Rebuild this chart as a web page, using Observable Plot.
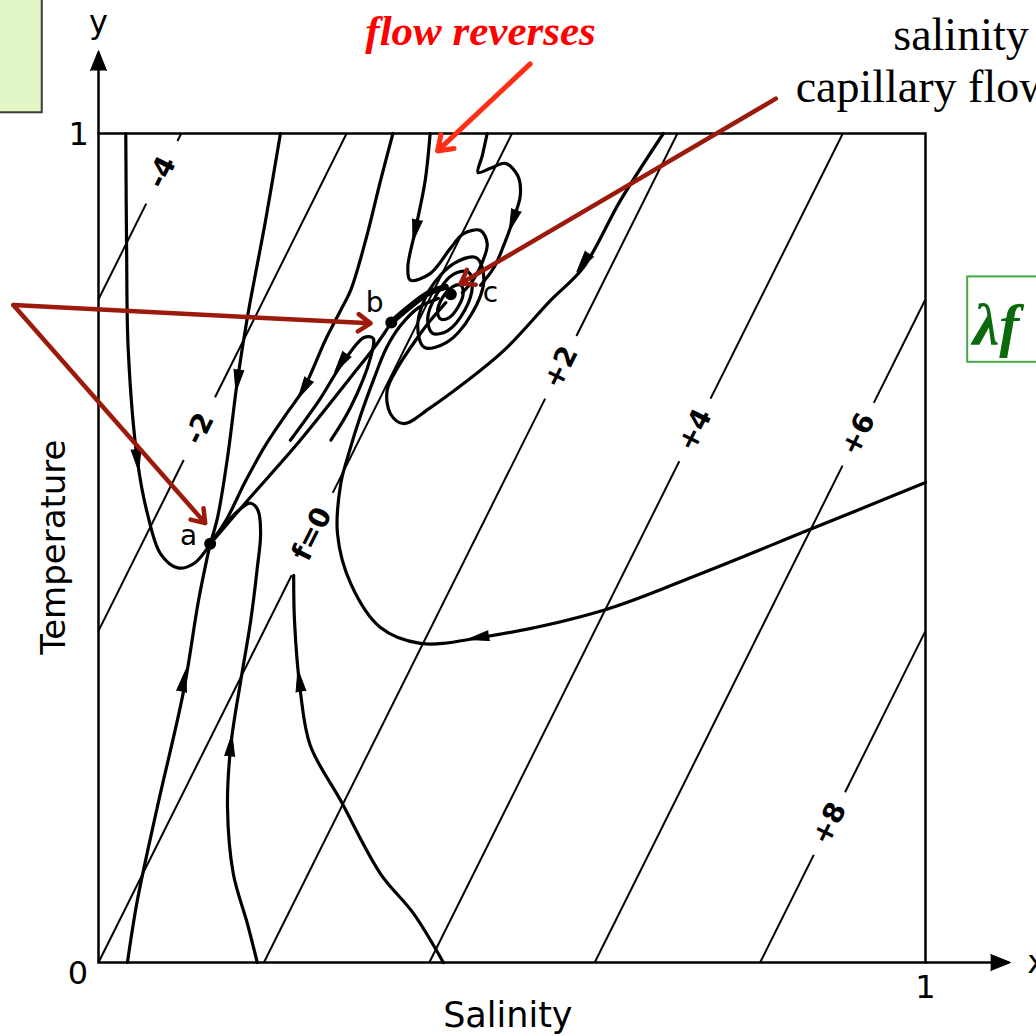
<!DOCTYPE html>
<html><head><meta charset="utf-8">
<script src="https://cdn.jsdelivr.net/npm/d3@7"></script>
<script src="https://cdn.jsdelivr.net/npm/@observablehq/plot@0.6"></script>
<style>body{margin:0;background:#fff;} svg{display:block}</style>
</head><body><div id="chart"></div>
<script>
// ---- Trajectories in the (salinity, temperature) phase plane ----
const trajT1 = [[0.033,1.0],[0.034,0.859],[0.036,0.738],[0.047,0.606],[0.059,0.542],[0.075,0.493],[0.096,0.476],[0.115,0.481],[0.132,0.500],[0.135,0.505]];
const trajT2 = [[0.220,1.0],[0.202,0.895],[0.180,0.778],[0.168,0.702],[0.156,0.609],[0.144,0.537],[0.135,0.505]];
const trajE  = [[0.035,0],[0.047,0.075],[0.071,0.187],[0.103,0.328],[0.121,0.437],[0.135,0.505]];
const trajD  = [[0.192,0],[0.180,0.047],[0.163,0.107],[0.156,0.187],[0.160,0.262],[0.172,0.340],[0.184,0.412],[0.192,0.476],[0.196,0.517],[0.193,0.545],[0.184,0.554],[0.169,0.545],[0.150,0.525],[0.135,0.505]];
const trajH  = [[0.417,0],[0.381,0.059],[0.341,0.107],[0.293,0.195],[0.256,0.262],[0.244,0.328],[0.237,0.412],[0.236,0.467]];
const trajAB = [[0.135,0.505],[0.180,0.557],[0.244,0.630],[0.305,0.706],[0.335,0.744],[0.354,0.772]];
const trajI  = [[1.0,0.579],[0.857,0.521],[0.728,0.469],[0.611,0.425],[0.462,0.392],[0.389,0.385],[0.341,0.404],[0.305,0.457],[0.289,0.517],[0.293,0.578],[0.302,0.612],[0.317,0.660],[0.333,0.704],[0.348,0.741],[0.365,0.768],[0.387,0.790],[0.411,0.801]];
const trajT3 = [[0.356,1.0],[0.341,0.943],[0.323,0.871],[0.305,0.811],[0.293,0.787],[0.274,0.750],[0.248,0.692],[0.226,0.660],[0.202,0.624],[0.178,0.581],[0.154,0.533],[0.135,0.505]];
const trajJ  = [[0.281,0.630],[0.305,0.670],[0.329,0.730],[0.332,0.753],[0.321,0.754],[0.293,0.720],[0.268,0.680],[0.232,0.630]];
const trajK  = [[0.401,1.0],[0.395,0.943],[0.383,0.883],[0.374,0.838],[0.377,0.823],[0.401,0.831],[0.426,0.862],[0.441,0.879],[0.462,0.883],[0.470,0.867],[0.465,0.847],[0.453,0.823],[0.440,0.808]];
const trajS  = [[0.470,1.0],[0.464,0.973],[0.459,0.953],[0.474,0.958],[0.492,0.964],[0.507,0.949],[0.510,0.925],[0.501,0.895],[0.490,0.865],[0.478,0.838],[0.462,0.817]];
const trajL  = [[0.683,1.0],[0.631,0.919],[0.586,0.838],[0.547,0.799],[0.490,0.738],[0.441,0.698],[0.401,0.669],[0.369,0.650],[0.353,0.662],[0.349,0.690],[0.362,0.718],[0.381,0.747],[0.401,0.774],[0.420,0.796]];
const trajBC = [[0.354,0.772],[0.375,0.790],[0.400,0.808],[0.420,0.815]];

// closed orbits spiralling into c
const loopOuter = [[0.457,0.850],[0.466,0.824],[0.451,0.782],[0.421,0.748],[0.394,0.742],[0.386,0.768],[0.400,0.811],[0.431,0.844]];
const loopMid   = [[0.447,0.833],[0.452,0.816],[0.443,0.787],[0.422,0.762],[0.404,0.759],[0.398,0.776],[0.409,0.806],[0.429,0.830]];
const loopInner = [[0.438,0.817],[0.441,0.807],[0.435,0.791],[0.424,0.778],[0.414,0.776],[0.410,0.785],[0.416,0.802],[0.428,0.815]];

// flow direction arrowheads: [salinity, temperature, heading in degrees]
const flowArrows = [[0.047,0.606,173],[0.168,0.702,188],[0.103,0.340,11],[0.160,0.262,6],[0.243,0.340,-8],
  [0.459,0.392,260],[0.248,0.692,210],[0.293,0.723,214],[0.383,0.883,192],[0.501,0.895,199],[0.586,0.844,215]];

// contours of lambda*f (straight lines)
const contourLabels = ["-4","-2","f=0","+2","+4","+6","+8"];
const contourStart  = [[0,0.8],[0,0.4],[0,0],[0.2,0],[0.4,0],[0.6,0],[0.8,0]];
const contourEnd    = [[0.1,1],[0.3,1],[0.5,1],[0.7,1],[0.9,1],[1,0.8],[1,0.4]];
const contourLabelAt= [[0.077,0.953],[0.122,0.644],[0.258,0.517],[0.559,0.718],[0.718,0.644],[0.917,0.638],[0.881,0.169]];

// equilibria
const eqNames = ["a","b","c"];
const eqPoints = [[0.135,0.505],[0.354,0.772],[0.426,0.806]];
const eqLabelAt = [[0.109,0.515],[0.334,0.795],[0.474,0.808]];

// annotations (placed in the same salinity/temperature units)
const annoArrowsDark = [[-0.103,0.793,0.329,0.771],[-0.103,0.793,0.129,0.530],[0.819,1.042,0.438,0.819]];
const annoArrowRed = [[0.522,1.084,0.410,0.979]];

// ---- build tables ----
const trajList = {T1:trajT1,T2:trajT2,E:trajE,D:trajD,H:trajH,AB:trajAB,I:trajI,T3:trajT3,J:trajJ,K:trajK,S:trajS,L:trajL};
const trajRows = Object.entries(trajList).flatMap(([id,pts]) => pts.map(([x,y]) => ({id,x,y})));
const bcRows = trajBC.map(([x,y]) => ({x,y}));
const loopRows = Object.entries({o:loopOuter,m:loopMid,i:loopInner}).flatMap(([id,pts]) => pts.map(([x,y]) => ({id,x,y})));
const arrowRows = flowArrows.map(([x,y,a]) => ({x,y,a}));

const contourSegs = [];
const contourText = [];
contourLabels.forEach((lab,i) => {
  const [x0,y0] = contourStart[i], [x1,y1] = contourEnd[i], [lx,ly] = contourLabelAt[i];
  const dx = x1-x0, dy = y1-y0, L = Math.hypot(dx,dy);
  const t = ((lx-x0)*dx + (ly-y0)*dy)/(L*L);
  const half = (lab.length > 2 ? 46 : 35)/828/L;
  contourSegs.push({id:i+"a", x1:x0, y1:y0, x2:x0+dx*(t-half), y2:y0+dy*(t-half)});
  contourSegs.push({id:i+"b", x1:x0+dx*(t+half), y1:y0+dy*(t+half), x2:x1, y2:y1});
  contourText.push({x:x0+dx*t, y:y0+dy*t, text:lab});
});

const serif = "'Liberation Serif','DejaVu Serif',serif";
const sans = "'DejaVu Sans','Liberation Sans',sans-serif";

const chart = Plot.plot({
  width: 1036, height: 1036,
  marginLeft: 98, marginRight: 111, marginTop: 133, marginBottom: 74,
  x: {domain:[0,1], axis:null},
  y: {domain:[0,1], axis:null},
  style: {background:"white", overflow:"hidden"},
  marks: [
    // green note box (top-left, cut by page edge)
    Plot.rect([{x1:-0.14,x2:-0.068,y1:1.025,y2:1.18}], {x1:"x1",x2:"x2",y1:"y1",y2:"y2", fill:"#e3f6c6", stroke:"#3b3b3b", strokeWidth:2}),
    // frame and axes
    Plot.frame({stroke:"black", strokeWidth:2.5}),
    Plot.link([{x1:0,y1:1,x2:0,y2:1.085},{x1:1,y1:0,x2:1.085,y2:0}], {x1:"x1",y1:"y1",x2:"x2",y2:"y2", stroke:"black", strokeWidth:2.5}),
    Plot.vector([{x:0,y:1.100,a:0},{x:1.103,y:0,a:90}], {x:"x",y:"y",rotate:"a",length:20,r:8,shape:"spike",anchor:"end",fill:"black",stroke:"black",strokeWidth:1}),
    // contour lines
    Plot.link(contourSegs, {x1:"x1",y1:"y1",x2:"x2",y2:"y2", stroke:"black", strokeWidth:2}),
    Plot.text(contourText, {x:"x",y:"y",text:"text", rotate:-63.5, fontSize:28, fontWeight:"bold", fontFamily:sans, fill:"black"}),
    // trajectories
    Plot.line(trajRows, {x:"x",y:"y",z:"id", curve:"catmull-rom", stroke:"black", strokeWidth:3.2}),
    Plot.line(bcRows, {x:"x",y:"y", curve:"catmull-rom", stroke:"black", strokeWidth:6}),
    Plot.line(loopRows, {x:"x",y:"y",z:"id", curve:"catmull-rom-closed", stroke:"black", strokeWidth:3.2}),
    Plot.vector(arrowRows, {x:"x",y:"y",rotate:"a",length:22,r:5,shape:"spike",anchor:"middle",fill:"black",stroke:"black",strokeWidth:1}),
    // equilibria
    Plot.dot(eqPoints, {x:d=>d[0], y:d=>d[1], r:6, fill:"black"}),
    Plot.text(eqNames.map((n,i)=>({n,x:eqLabelAt[i][0],y:eqLabelAt[i][1]})), {x:"x",y:"y",text:"n", fontSize:28, fontFamily:sans, fill:"black"}),
    // axis texts
    Plot.text([{x:0.495,y:-0.064,t:"Salinity"}], {x:"x",y:"y",text:"t", fontSize:35, fontFamily:sans, fill:"black"}),
    Plot.text([{x:-0.054,y:0.501,t:"Temperature"}], {x:"x",y:"y",text:"t", rotate:-90, fontSize:34, fontFamily:sans, fill:"black"}),
    Plot.text([{x:0,y:1.134,t:"y"},{x:-0.025,y:-0.013,t:"0"},{x:-0.024,y:0.998,t:"1"},{x:1.0,y:-0.031,t:"1"}], {x:"x",y:"y",text:"t", fontSize:32, fontFamily:sans, fill:"black"}),
    Plot.text([{x:1.123,y:0,t:"x"}], {x:"x",y:"y",text:"t", textAnchor:"start", fontSize:32, fontFamily:sans, fill:"black"}),
    // annotations
    Plot.arrow(annoArrowsDark, {x1:d=>d[0],y1:d=>d[1],x2:d=>d[2],y2:d=>d[3], stroke:"#9b1a0b", strokeWidth:4.5, headLength:5, headAngle:70}),
    Plot.arrow(annoArrowRed, {x1:d=>d[0],y1:d=>d[1],x2:d=>d[2],y2:d=>d[3], stroke:"#ff2e14", strokeWidth:5, headLength:5, headAngle:70}),
    Plot.text([{x:0.462,y:1.123,t:"flow reverses"}], {x:"x",y:"y",text:"t", fontSize:43, fontStyle:"italic", fontWeight:"bold", fontFamily:serif, fill:"#ff0000"}),
    Plot.text([{x:0.961,y:1.118,t:"salinity"}], {x:"x",y:"y",text:"t", textAnchor:"start", fontSize:46, fontFamily:serif, fill:"black"}),
    Plot.text([{x:0.843,y:1.056,t:"capillary flow"}], {x:"x",y:"y",text:"t", textAnchor:"start", fontSize:46, fontFamily:serif, fill:"black"}),
    Plot.rect([{x1:1.051,x2:1.15,y1:0.724,y2:0.827}], {x1:"x1",x2:"x2",y1:"y1",y2:"y2", fill:"none", stroke:"#45a845", strokeWidth:2}),
    Plot.text([{x:1.057,y:0.768,t:"λf"}], {x:"x",y:"y",text:"t", textAnchor:"start", fontSize:60, fontStyle:"italic", fontWeight:"bold", fontFamily:serif, fill:"#0b6a0b"})
  ]
});
document.getElementById("chart").appendChild(chart);
</script></body></html>
